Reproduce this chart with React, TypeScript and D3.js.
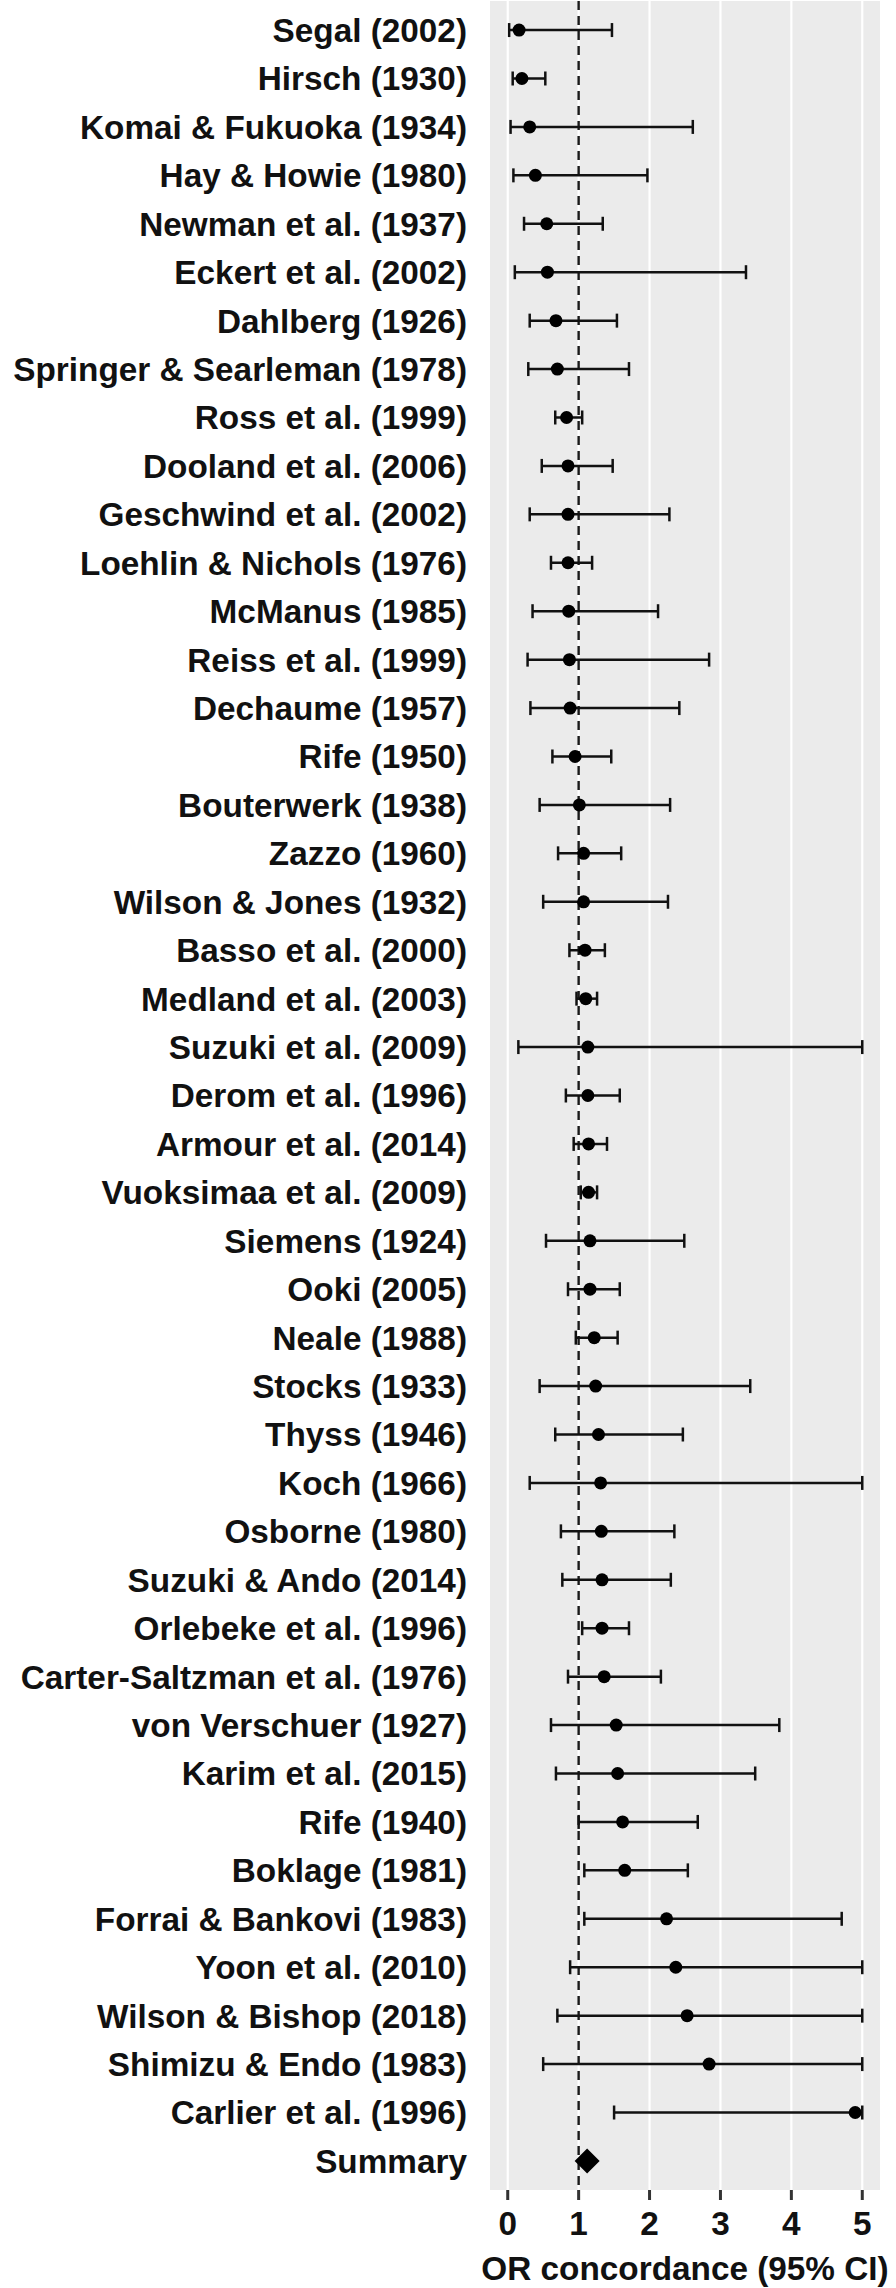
import React from "react";
import * as d3 from "d3";

const studies = [
  "Segal (2002)", "Hirsch (1930)", "Komai & Fukuoka (1934)", "Hay & Howie (1980)",
  "Newman et al. (1937)", "Eckert et al. (2002)", "Dahlberg (1926)", "Springer & Searleman (1978)",
  "Ross et al. (1999)", "Dooland et al. (2006)", "Geschwind et al. (2002)", "Loehlin & Nichols (1976)",
  "McManus (1985)", "Reiss et al. (1999)", "Dechaume (1957)", "Rife (1950)",
  "Bouterwerk (1938)", "Zazzo (1960)", "Wilson & Jones (1932)", "Basso et al. (2000)",
  "Medland et al. (2003)", "Suzuki et al. (2009)", "Derom et al. (1996)", "Armour et al. (2014)",
  "Vuoksimaa et al. (2009)", "Siemens (1924)", "Ooki (2005)", "Neale (1988)",
  "Stocks (1933)", "Thyss (1946)", "Koch (1966)", "Osborne (1980)",
  "Suzuki & Ando (2014)", "Orlebeke et al. (1996)", "Carter-Saltzman et al. (1976)", "von Verschuer (1927)",
  "Karim et al. (2015)", "Rife (1940)", "Boklage (1981)", "Forrai & Bankovi (1983)",
  "Yoon et al. (2010)", "Wilson & Bishop (2018)", "Shimizu & Endo (1983)", "Carlier et al. (1996)",
];
const orValues = [
  0.16, 0.20, 0.31, 0.39, 0.55, 0.56, 0.68, 0.70, 0.83, 0.85, 0.85, 0.85,
  0.86, 0.87, 0.88, 0.95, 1.01, 1.07, 1.07, 1.09, 1.10, 1.13, 1.13, 1.14,
  1.14, 1.16, 1.16, 1.22, 1.24, 1.28, 1.31, 1.32, 1.33, 1.33, 1.36, 1.53,
  1.55, 1.62, 1.65, 2.24, 2.37, 2.53, 2.84, 4.90,
];
const ciLower = [
  0.02, 0.07, 0.04, 0.08, 0.23, 0.10, 0.31, 0.29, 0.67, 0.48, 0.31, 0.61,
  0.35, 0.28, 0.32, 0.63, 0.45, 0.71, 0.50, 0.87, 0.97, 0.15, 0.82, 0.93,
  1.03, 0.54, 0.85, 0.96, 0.45, 0.67, 0.31, 0.75, 0.77, 1.05, 0.85, 0.61,
  0.68, 1.00, 1.08, 1.08, 0.88, 0.70, 0.50, 1.50,
];
const ciUpper = [
  1.47, 0.53, 2.61, 1.97, 1.34, 3.36, 1.54, 1.71, 1.05, 1.48, 2.28, 1.19,
  2.12, 2.84, 2.42, 1.46, 2.29, 1.60, 2.26, 1.37, 1.26, 5.00, 1.58, 1.40,
  1.26, 2.49, 1.58, 1.55, 3.42, 2.47, 5.00, 2.35, 2.30, 1.71, 2.16, 3.83,
  3.49, 2.68, 2.54, 4.71, 5.00, 5.00, 5.00, 5.00,
];
const summaryLabel = "Summary";
const summaryOR = 1.12;
const xTicks = [0, 1, 2, 3, 4, 5];
const xTitle = "OR concordance (95% CI)";

const W = 896;
const H = 2288;
const panel = { left: 490, right: 880, top: 1, bottom: 2190 };
const FONT = "'Liberation Sans', Arial, Helvetica, sans-serif";
const FS = 33;
const SX = 1.01;
const INK = "#111";
const LW = 2.5;

export default function App() {
  const rows = [...studies, summaryLabel];
  const x = d3.scaleLinear().domain([-0.25, 5.25]).range([panel.left, panel.right]);
  const y = d3.scalePoint<string>().domain(rows).range([panel.top, panel.bottom]).padding(0.6);
  const cap = 7;
  const diamond = 12.5;

  const T = (props: { x: number; y: number; anchor: string; text: string; size?: number }) => (
    <g transform={`translate(${props.x},${props.y}) scale(${SX},1)`}>
      <text
        x={0}
        y={0}
        dy="0.36em"
        textAnchor={props.anchor as any}
        fontFamily={FONT}
        fontWeight="bold"
        fontSize={props.size ?? FS}
        fill={INK}
      >
        {props.text}
      </text>
    </g>
  );

  return (
    <svg
      width={W}
      height={H}
      viewBox={`0 0 ${W} ${H}`}
      style={{ position: "absolute", left: 0, top: 0, background: "#fff" }}
    >
      <rect
        x={panel.left}
        y={panel.top}
        width={panel.right - panel.left}
        height={panel.bottom - panel.top}
        fill="#EBEBEB"
      />
      {xTicks.map((t) => (
        <line key={"g" + t} x1={x(t)} x2={x(t)} y1={panel.top} y2={panel.bottom} stroke="#fff" strokeWidth={2.2} />
      ))}
      <line
        x1={x(1)}
        x2={x(1)}
        y1={panel.top}
        y2={panel.bottom}
        stroke="#1a1a1a"
        strokeWidth={2.4}
        strokeDasharray="9,6"
      />
      {studies.map((s, i) => {
        const yy = y(s)!;
        return (
          <g key={s}>
            <line x1={x(ciLower[i])} x2={x(ciUpper[i])} y1={yy} y2={yy} stroke={INK} strokeWidth={LW} />
            <line x1={x(ciLower[i])} x2={x(ciLower[i])} y1={yy - cap} y2={yy + cap} stroke={INK} strokeWidth={LW} />
            <line x1={x(ciUpper[i])} x2={x(ciUpper[i])} y1={yy - cap} y2={yy + cap} stroke={INK} strokeWidth={LW} />
            <circle cx={x(orValues[i])} cy={yy} r={6.5} fill="#000" />
          </g>
        );
      })}
      {(() => {
        const cx = x(summaryOR);
        const cy = y(summaryLabel)!;
        return (
          <path
            d={`M${cx},${cy - diamond}L${cx + diamond},${cy}L${cx},${cy + diamond}L${cx - diamond},${cy}Z`}
            fill="#000"
          />
        );
      })()}
      {rows.map((s) => (
        <T key={"l" + s} x={467} y={y(s)!} anchor="end" text={s} />
      ))}
      {xTicks.map((t) => (
        <g key={"t" + t}>
          <line x1={x(t)} x2={x(t)} y1={panel.bottom} y2={panel.bottom + 10} stroke="#333" strokeWidth={3} />
          <T x={x(t)} y={2223} anchor="middle" text={String(t)} />
        </g>
      ))}
      <T x={(panel.left + panel.right) / 2} y={2268} anchor="middle" text={xTitle} />
    </svg>
  );
}
